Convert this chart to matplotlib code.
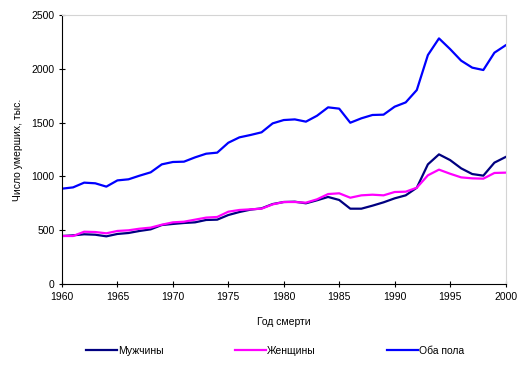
import numpy as np
import matplotlib
matplotlib.use("Agg")
import matplotlib.pyplot as plt

plt.rcParams['font.family'] = ['Liberation Sans', 'DejaVu Sans']

years = np.arange(1960, 2001)

men = [446, 452, 462, 458, 443, 465, 474, 493, 508, 548,
       558, 567, 573, 595, 598, 641, 669, 691, 703, 743,
       762, 765, 750, 778, 809, 781, 700, 700, 728, 759,
       796, 824, 895, 1112, 1205, 1152, 1075, 1022, 1007, 1128,
       1180]

women = [446, 446, 486, 483, 471, 493, 499, 514, 524, 551,
         573, 579, 598, 617, 623, 672, 688, 694, 700, 740,
         762, 762, 756, 787, 836, 843, 802, 824, 830, 824,
         855, 858, 895, 1010, 1063, 1025, 991, 982, 979, 1032,
         1035]

both = [886, 898, 942, 936, 905, 963, 973, 1007, 1038, 1112,
        1134, 1137, 1177, 1211, 1221, 1313, 1363, 1385, 1410, 1493,
        1524, 1530, 1509, 1564, 1642, 1630, 1499, 1540, 1571, 1574,
        1648, 1688, 1803, 2128, 2283, 2184, 2076, 2011, 1989, 2150,
        2218]

series_names = ['Мужчины', 'Женщины', 'Оба пола']
colors = ['#000080', '#FF00FF', '#0000FF']

fig = plt.figure(figsize=(5.24, 3.67), dpi=100)
ax = fig.add_axes([0.1183, 0.2262, 0.8464, 0.7328])

for vals, name, c in zip([men, women, both], series_names, colors):
    ax.plot(years, vals, color=c, lw=1.6, label=name)

ax.set_xlim(1960, 2000)
ax.set_ylim(0, 2500)
ax.set_xticks(np.arange(1960, 2001, 5))
ax.set_yticks(np.arange(0, 2501, 500))
ax.tick_params(direction='inout', length=5, width=0.8, labelsize=7.5, pad=3)

for s in ['top', 'right']:
    ax.spines[s].set_color('#D4D4D4')
for s in ['left', 'bottom']:
    ax.spines[s].set_color('black')

ax.set_xlabel('Год смерти', fontsize=7.5, labelpad=11)
ax.set_ylabel('Число умерших, тыс.', fontsize=7.5, labelpad=6)

fig.legend(loc='lower center', bbox_to_anchor=(0.525, 0.005), ncol=3, frameon=False,
           fontsize=7.5, handlelength=3.0, handletextpad=0.1, columnspacing=6.8)

fig.savefig('out.png', dpi=100)
